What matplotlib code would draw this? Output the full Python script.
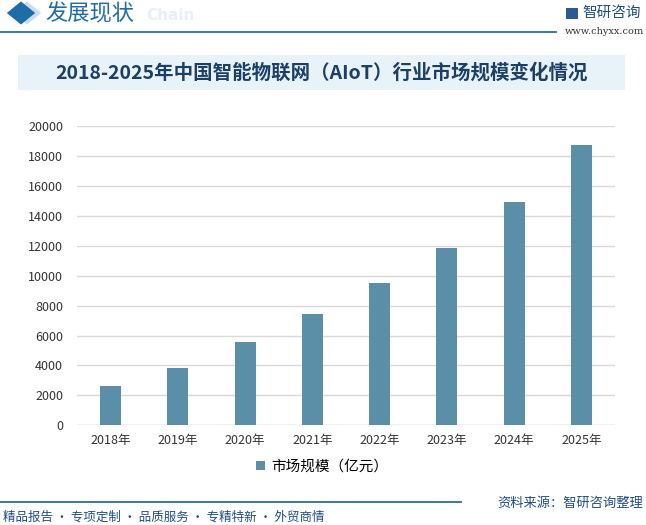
"""AIoT market size chart, 2018-2025."""

import matplotlib
matplotlib.use("Agg")
import matplotlib.pyplot as plt
from matplotlib.patches import Rectangle, RegularPolygon
from matplotlib.lines import Line2D


years = ["2018年", "2019年", "2020年", "2021年", "2022年", "2023年", "2024年", "2025年"]
market_size = [2625, 3850, 5585, 7455, 9506, 11865, 14937, 18745]
y_ticks = list(range(0, 20001, 2000))
series_name = "市场规模（亿元）"
title = "2018-2025年中国智能物联网（AIoT）行业市场规模变化情况"

BAR = "#5B8FA8"
NAVY = "#1B3F66"
LINE = "#2A6C98"
GRID = "#D9D9D9"
BOXBG = "#E8F2F9"

plt.rcParams["font.family"] = ["Noto Sans CJK SC", "DejaVu Sans"]

W, H = 646, 525
fig = plt.figure(figsize=(W / 100, H / 100), dpi=100)
fig.patch.set_facecolor("white")


def fx(px):
    return px / W


def fy(py):
    return 1 - py / H


# header
fig.patches.append(RegularPolygon((fx(27), fy(13)), 4, radius=0.022, orientation=0,
                                  transform=fig.transFigure, facecolor="#C9DDEE",
                                  edgecolor="none"))
fig.patches.append(RegularPolygon((fx(21), fy(13)), 4, radius=0.022, orientation=0,
                                  transform=fig.transFigure, facecolor="#1F6DA8",
                                  edgecolor="none"))
fig.text(fx(146), fy(16), "Chain", fontsize=11, color="#E6F0F8",
         weight="bold", va="center", ha="left", family="DejaVu Sans", zorder=0)
fig.text(fx(45), fy(14), "发展现状", fontsize=16, color="#1F6DA8", va="center", ha="left")
fig.lines.append(Line2D([0, fx(556)], [fy(32), fy(32)], transform=fig.transFigure,
                        color=LINE, linewidth=1.3))
fig.patches.append(Rectangle((fx(566), fy(19)), fx(12), 11 / H, transform=fig.transFigure,
                             facecolor="#2A5C93", edgecolor="none"))
fig.text(fx(582), fy(13), "智研咨询", fontsize=10.5, color="#1F4E86", va="center", ha="left")
fig.text(fx(565), fy(32), "www.chyxx.com", fontsize=7, color="#333333", va="center",
         ha="left", family="DejaVu Serif")

# title box
fig.patches.append(Rectangle((fx(18), fy(90)), fx(607), 35 / H, transform=fig.transFigure,
                             facecolor=BOXBG, edgecolor="none"))
fig.text(fx(322), fy(73), title, fontsize=14, color=NAVY, weight="bold",
         va="center", ha="center")

# chart
ax = fig.add_axes([fx(77), fy(425.3), fx(615 - 77), (425.3 - 126) / H])
x = list(range(len(years)))
bars = ax.bar(x, market_size, width=0.31, color=BAR, label=series_name, zorder=3)
ax.set_xlim(-0.5, len(years) - 0.5)
ax.set_ylim(0, 20000)
ax.set_yticks(y_ticks)
ax.set_yticklabels([str(v) for v in y_ticks], fontsize=9, color="#333333")
ax.set_xticks(x)
ax.set_xticklabels(years, fontsize=9, color="#333333")
ax.tick_params(length=0, pad=10)
ax.tick_params(axis="x", pad=6)
ax.grid(axis="y", color=GRID, linewidth=1, zorder=0)
for spine in ax.spines.values():
    spine.set_visible(False)
ax.axhline(0, color=GRID, linewidth=1, zorder=2)
ax.set_facecolor("none")
fig.legend(handles=[bars], labels=[series_name], loc="center",
           bbox_to_anchor=(fx(322), fy(467)), frameon=False, fontsize=10.5,
           handlelength=0.6, handleheight=0.6, handletextpad=0.4)

# footer
fig.lines.append(Line2D([0, fx(461)], [fy(502), fy(502)], transform=fig.transFigure,
                        color=LINE, linewidth=1.3))
fig.text(fx(643), fy(503), "资料来源：智研咨询整理", fontsize=9.5, color="#1F4E86",
         va="center", ha="right")
fig.text(fx(3), fy(517), "精品报告 · 专项定制 · 品质服务 · 专精特新 · 外贸商情",
         fontsize=9, color="#1F4E86", va="center", ha="left")

fig.savefig("out.png", dpi=100)
